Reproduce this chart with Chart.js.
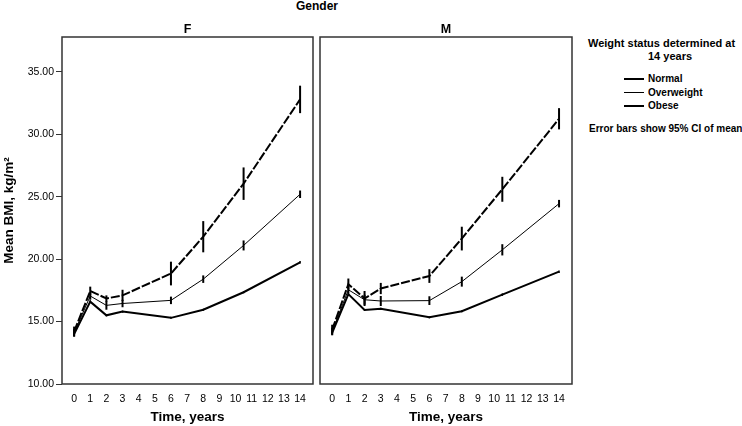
<!DOCTYPE html>
<html>
<head>
<meta charset="utf-8">
<script src="https://cdn.jsdelivr.net/npm/chart.js@4"></script>
<style>
  body { margin: 0; background: #fff; }
  #page { position: relative; width: 742px; height: 426px; overflow: hidden; font-family: "Liberation Sans", Arial, sans-serif; color: #000; }
  .abs { position: absolute; white-space: nowrap; }
  .key { display: flex; align-items: center; height: 13.5px; font-weight: bold; font-size: 10px; }
  .key span.ln { display: inline-block; width: 20px; margin-right: 4px; border-top-style: solid; border-top-color: #000; }
</style>
</head>
<body>
<div id="page">
  <div class="abs" style="left:0;width:634px;top:-1px;line-height:14px;text-align:center;font-weight:bold;font-size:12px;">Gender</div>
  <canvas id="chartF" class="abs" width="316" height="426" style="left:0;top:0;"></canvas>
  <canvas id="chartM" class="abs" width="264" height="426" style="left:316px;top:0;"></canvas>

  <div class="abs" style="left:588px;top:37px;line-height:13px;font-weight:bold;font-size:11px;">Weight status determined at</div>
  <div class="abs" style="left:648px;top:50px;line-height:13px;font-weight:bold;font-size:11px;">14 years</div>
  <div class="abs" style="left:624px;top:72px;">
    <div class="key"><span class="ln" style="border-top-width:2.5px"></span>Normal</div>
    <div class="key"><span class="ln" style="border-top-width:1px"></span>Overweight</div>
    <div class="key"><span class="ln" style="border-top-width:2.5px"></span>Obese</div>
  </div>
  <div class="abs" style="left:589px;top:122px;line-height:14px;font-weight:bold;font-size:10px;">Error bars show 95% CI of mean</div>
</div>

<script>
// measurement times (years)
const times = [0, 1, 2, 3, 6, 8, 10.5, 14];
const xTicks = [0, 1, 2, 3, 4, 5, 6, 7, 8, 9, 10, 11, 12, 13, 14];
const yTicks = [10, 15, 20, 25, 30, 35];

// girls: mean BMI per weight group, plus half-width of the 95% CI
const normalF = [14.0, 16.6, 15.5, 15.8, 15.3, 15.95, 17.35, 19.75];
const overweightF = [14.1, 17.05, 16.3, 16.45, 16.7, 18.4, 21.1, 25.2];
const obeseF = [14.2, 17.45, 16.85, 17.1, 18.85, 21.8, 26.05, 32.8];
const normalCiF = [0.15, 0.1, 0.08, 0.08, 0.08, 0.08, 0.08, 0.1];
const overweightCiF = [0.3, 0.3, 0.35, 0.3, 0.3, 0.3, 0.4, 0.3];
const obeseCiF = [0.4, 0.35, 0.25, 0.45, 0.95, 1.25, 1.3, 1.1];

// boys
const normalM = [14.1, 17.2, 15.93, 16.03, 15.34, 15.83, 17.16, 19.0];
const overweightM = [14.2, 17.55, 16.75, 16.65, 16.68, 18.2, 20.75, 24.45];
const obeseM = [14.35, 18.0, 16.85, 17.65, 18.65, 21.65, 25.6, 31.25];
const normalCiM = [0.12, 0.1, 0.08, 0.08, 0.08, 0.08, 0.1, 0.1];
const overweightCiM = [0.3, 0.3, 0.4, 0.4, 0.35, 0.4, 0.45, 0.3];
const obeseCiM = [0.4, 0.45, 0.6, 0.45, 0.55, 0.95, 1.0, 0.85];

const FONT = "'Liberation Sans', Arial, sans-serif";

// frame round the plot area + vertical error bars (no caps)
const panelPlugin = {
    id: 'panel',
    afterDatasetsDraw(chart) {
        const { ctx, chartArea: a, scales: { x, y } } = chart;
        ctx.save();
        chart.data.datasets.forEach((ds) => {
            ctx.strokeStyle = '#000';
            ctx.lineWidth = ds.barWidth;
            ds.data.forEach((pt, i) => {
                const px = x.getPixelForValue(pt.x);
                ctx.beginPath();
                ctx.moveTo(px, y.getPixelForValue(pt.y - ds.ci[i]));
                ctx.lineTo(px, y.getPixelForValue(pt.y + ds.ci[i]));
                ctx.stroke();
            });
        });
        ctx.strokeStyle = '#333';
        ctx.lineWidth = 1.5;
        ctx.strokeRect(a.left, a.top, a.right - a.left, a.bottom - a.top);
        ctx.restore();
    }
};

function series(values, ci, width, dash, barWidth) {
    return {
        data: times.map((t, i) => ({ x: t, y: values[i] })),
        ci: ci,
        barWidth: barWidth,
        borderColor: '#000',
        borderWidth: width,
        borderDash: dash,
        pointRadius: 0,
        tension: 0,
        fill: false
    };
}

function makePanel(canvasId, title, groups, showY, padding) {
    return new Chart(document.getElementById(canvasId), {
        type: 'line',
        data: {
            datasets: [
                series(groups[0], groups[1], 2, [], 1.5),
                series(groups[2], groups[3], 1, [], 2),
                series(groups[4], groups[5], 2, [9, 2], 2)
            ]
        },
        options: {
            responsive: false,
            animation: false,
            layout: { padding: padding },
            plugins: {
                legend: { display: false },
                tooltip: { enabled: false },
                title: {
                    display: true,
                    text: title,
                    fullSize: false,
                    color: '#000',
                    font: { family: FONT, size: 12.5, weight: 'bold', lineHeight: 1.2 },
                    padding: { top: 22, bottom: 0 }
                }
            },
            scales: {
                x: {
                    type: 'linear',
                    min: -0.75,
                    max: 14.8,
                    afterBuildTicks: (s) => { s.ticks = xTicks.map((v) => ({ value: v })); },
                    afterFit: (s) => { s.height = 42; },
                    grid: { display: false, drawTicks: false },
                    border: { display: false },
                    ticks: { color: '#000', padding: 9, maxRotation: 0, autoSkip: false, font: { family: FONT, size: 10.5 } },
                    title: {
                        display: true,
                        text: 'Time, years',
                        color: '#000',
                        font: { family: FONT, size: 13.5, weight: 'bold', lineHeight: 1.2 },
                        padding: { top: 0, bottom: 1 }
                    }
                },
                y: {
                    display: showY,
                    min: 10,
                    max: 37.8,
                    afterBuildTicks: (s) => { s.ticks = yTicks.map((v) => ({ value: v })); },
                    afterFit: (s) => { if (showY) s.width = 62; },
                    grid: { drawOnChartArea: false, drawTicks: true, tickLength: 6, color: '#333' },
                    border: { display: false },
                    ticks: {
                        color: '#000',
                        padding: 2,
                        font: { family: FONT, size: 10.5 },
                        callback: (v) => v.toFixed(2)
                    },
                    title: {
                        display: true,
                        text: 'Mean BMI, kg/m²',
                        color: '#000',
                        font: { family: FONT, size: 13.5, weight: 'bold', lineHeight: 1.2 },
                        padding: { top: 1, bottom: 0 }
                    }
                }
            }
        },
        plugins: [panelPlugin]
    });
}

makePanel('chartF', 'F',
    [normalF, normalCiF, overweightF, overweightCiF, obeseF, obeseCiF],
    true, { left: 0, right: 3, top: 0, bottom: 0 });
makePanel('chartM', 'M',
    [normalM, normalCiM, overweightM, overweightCiM, obeseM, obeseCiM],
    false, { left: 4, right: 8, top: 0, bottom: 0 });
</script>
</body>
</html>
